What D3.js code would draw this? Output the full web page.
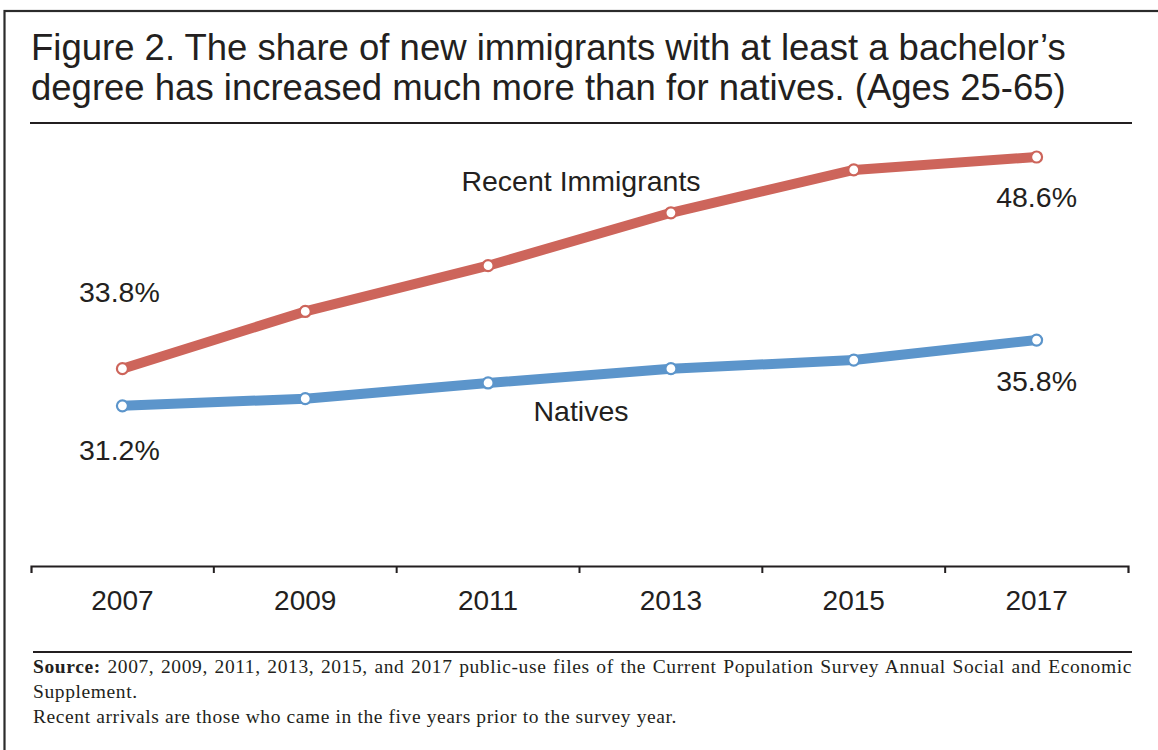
<!DOCTYPE html>
<html>
<head>
<meta charset="utf-8">
<script src="https://cdn.jsdelivr.net/npm/d3@7"></script>
<style>
  html, body { margin: 0; padding: 0; background: #fff; }
  svg { display: block; }
  .sans { font-family: "Liberation Sans", Arial, Helvetica, sans-serif; fill: #231f20; }
  .serif { font-family: "Liberation Serif", "Times New Roman", serif; fill: #231f20; }
</style>
</head>
<body>
<svg id="chart" width="1158" height="750"></svg>
<script>
// Survey years and shares (%) of adults 25-65 with at least a bachelor's degree
const years = ["2007", "2009", "2011", "2013", "2015", "2017"];
const immigrants = [33.8, 37.8, 41.0, 44.7, 47.7, 48.6];
const natives = [31.2, 31.7, 32.8, 33.8, 34.4, 35.8];
const seriesNames = ["Recent Immigrants", "Natives"];
const titleLines = [
  "Figure 2. The share of new immigrants with at least a bachelor\u2019s",
  "degree has increased much more than for natives. (Ages 25-65)"
];
const sourceLines = [
  ["Source:", " 2007, 2009, 2011, 2013, 2015, and 2017 public-use files of the Current Population Survey Annual Social and Economic"],
  ["", "Supplement."],
  ["", "Recent arrivals are those who came in the five years prior to the survey year."]
];

const svg = d3.select("#chart");
const red = "#cd655b", blue = "#5c95cb", ink = "#231f20";

// Outer frame (runs off the right and bottom edges)
svg.append("rect")
  .attr("x", 4.5).attr("y", 11).attr("width", 1200).attr("height", 800)
  .attr("fill", "none").attr("stroke", "#2b2b2b").attr("stroke-width", 2.2);

// Title
svg.append("g").selectAll("text").data(titleLines).join("text")
  .attr("class", "sans")
  .attr("x", 31).attr("y", (d, i) => 60 + i * 40)
  .attr("font-size", 36.5)
  .text(d => d);

svg.append("line").attr("x1", 30).attr("x2", 1132).attr("y1", 123).attr("y2", 123)
  .attr("stroke", ink).attr("stroke-width", 2);

// Scales
const left = 31, right = 1128, axisY = 566;
const xBand = d3.scaleBand().domain(years).range([left, right]).paddingInner(0).paddingOuter(0);
const x = d3.scalePoint().domain(years).range([left, right]).padding(0.5);
const y = d3.scaleLinear().domain([20, 50]).range([axisY, 137]);

// X axis: bracketed bands with year labels centred in each band
const axis = svg.append("g").attr("transform", `translate(0,${axisY})`)
  .call(d3.axisBottom(xBand).tickSizeInner(0).tickSizeOuter(7).tickPadding(32));
axis.select(".domain").attr("stroke", ink).attr("stroke-width", 2.2);
axis.selectAll(".tick line").remove();
axis.selectAll(".tick text")
  .attr("class", "sans")
  .attr("font-size", 28)
  .attr("fill", ink)
  .attr("dy", 0)
  .attr("y", 44);
axis.selectAll(".band-tick").data(years.slice(1)).join("line")
  .attr("class", "band-tick")
  .attr("x1", d => xBand(d)).attr("x2", d => xBand(d))
  .attr("y1", 0).attr("y2", 7)
  .attr("stroke", ink).attr("stroke-width", 2);

// Lines and markers
const series = [
  { name: seriesNames[0], values: immigrants, color: red },
  { name: seriesNames[1], values: natives, color: blue }
];
const line = d3.line().x((d, i) => x(years[i])).y(d => y(d));

series.forEach(s => {
  const g = svg.append("g");
  g.append("path").datum(s.values)
    .attr("d", line)
    .attr("fill", "none")
    .attr("stroke", s.color)
    .attr("stroke-width", 10)
    .attr("stroke-linejoin", "round");
  g.selectAll("circle").data(s.values).join("circle")
    .attr("cx", (d, i) => x(years[i]))
    .attr("cy", d => y(d))
    .attr("r", 5.5)
    .attr("fill", "#fff")
    .attr("stroke", s.color)
    .attr("stroke-width", 2.2);
});

// Series names
svg.append("text").attr("class", "sans").attr("font-size", 28.5)
  .attr("text-anchor", "middle").attr("x", 581).attr("y", 191)
  .text(seriesNames[0]);
svg.append("text").attr("class", "sans").attr("font-size", 28.5)
  .attr("text-anchor", "middle").attr("x", 581).attr("y", 421)
  .text(seriesNames[1]);

// End-point value labels
const fmt = d => d.toFixed(1) + "%";
const endLabels = [
  { v: immigrants[0], i: 0, dy: -67, dx: -3 },
  { v: immigrants[immigrants.length - 1], i: years.length - 1, dy: 50, dx: 0 },
  { v: natives[0], i: 0, dy: 54, dx: -3 },
  { v: natives[natives.length - 1], i: years.length - 1, dy: 51, dx: 0 }
];
svg.append("g").selectAll("text").data(endLabels).join("text")
  .attr("class", "sans")
  .attr("font-size", 28.5)
  .attr("text-anchor", "middle")
  .attr("x", d => x(years[d.i]) + d.dx)
  .attr("y", d => y(d.v) + d.dy)
  .text(d => fmt(d.v));

// Footer rule and source notes
svg.append("line").attr("x1", 33).attr("x2", 1132).attr("y1", 652).attr("y2", 652)
  .attr("stroke", ink).attr("stroke-width", 2);

const notes = svg.append("g");
sourceLines.forEach((parts, i) => {
  const t = notes.append("text").attr("class", "serif")
    .attr("x", 33).attr("y", 673 + i * 25).attr("font-size", 19.5)
    .attr("letter-spacing", 0.6);
  if (parts[0]) t.append("tspan").attr("font-weight", "bold").text(parts[0]);
  t.append("tspan").text(parts[1]);
  if (i === 0) {
    // justify the first line across the full column width
    const natural = t.node().getComputedTextLength();
    const spaces = (parts[0] + parts[1]).split(" ").length - 1;
    t.attr("word-spacing", (1132 - 33 - natural) / spaces);
  }
});
</script>
</body>
</html>
